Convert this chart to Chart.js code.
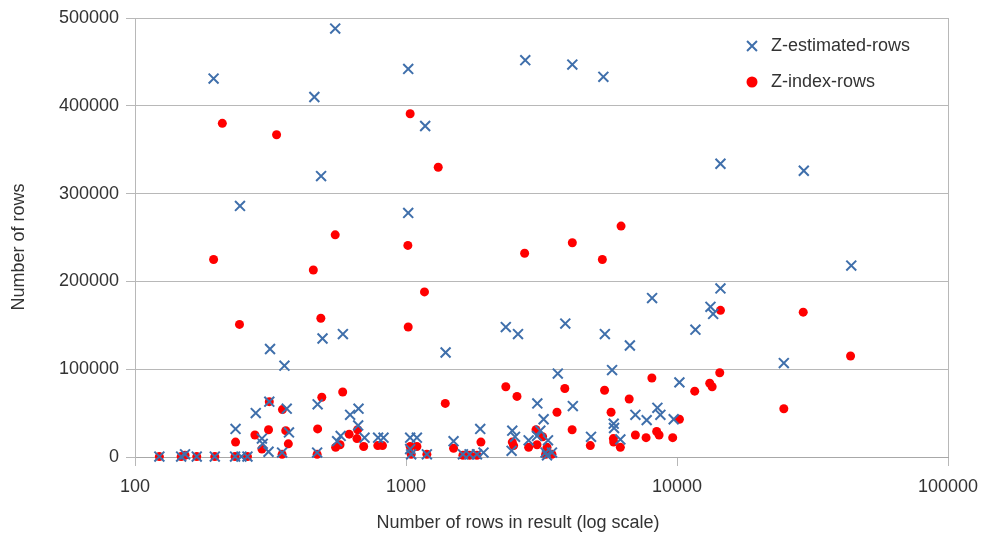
<!DOCTYPE html>
<html>
<head>
<meta charset="utf-8">
<script src="https://cdn.jsdelivr.net/npm/chart.js@4.4.1/dist/chart.umd.min.js"></script>
<style>
html, body { margin: 0; padding: 0; background: #fff; }
#wrap { width: 984px; height: 537px; }
</style>
</head>
<body>
<div id="wrap"><canvas id="grafico" width="984" height="537"></canvas></div>
<script>
// Z-estimated-rows (blue crosses)
const estX = [195,459,486,244,548,1019,2755,4109,5349,1177,1019,14466,29373,43960,14466,13288,13595,11694,8092,3871,
  5418,6701,2335,2590,1400,585,492,315,356,3632,5760,24785,10207,3052,4127,7022,7729,8465,8684,9723,
  3220,5839,5858,4817,6180,1879,2467,2525,3131,3044,2835,3342,3275,3457,3314,1498,1622,1716,1827,1932,
  2453,1036,1097,1036,1045,1194,789,826,703,668,666,622,557,574,472,470,363,370,349,313,
  311,294,296,279,235,123,148,153,169,197,234,247,260]
const estY = [431000,410000,320000,286000,488000,442000,452000,447000,433000,377000,278000,334000,326000,218000,192000,171000,163000,145000,181000,152000,
  140000,127000,148000,140000,119000,140000,135000,123000,104000,95000,99000,107000,85000,61000,58000,48000,42000,56000,48000,43000,
  43000,38000,33000,23000,20000,32000,30000,23000,30000,24000,19000,19000,5000,5000,2000,18000,3000,3000,3000,5000,
  7000,22000,22000,9000,3000,3000,22000,22000,22000,55000,36000,48000,18000,24000,60000,5000,55000,28000,5000,63000,
  6000,21000,15000,50000,32000,500,500,3000,500,500,500,500,500]

// Z-index-rows (red dots)
const idxX = [210,333,195,455,243,485,1036,1315,548,1016,1170,2740,4109,5303,6217,1019,29224,14466,43695,14379,
  13208,13480,11625,8078,5404,3855,2335,2568,584,489,1396,24785,10207,9641,6661,5711,3607,4102,4788,5824,
  5839,6180,7022,7690,8415,8588,3018,3193,3044,2835,3314,2467,2495,1890,1498,1036,1097,787,819,698,
  663,659,617,571,550,472,368,360,350,311,313,294,277,235,123,148,153,169,197,234,
  260,349,470,1045,1194,1622,1716,1827,3275,3457]
const idxY = [380000,367000,225000,213000,151000,158000,391000,330000,253000,241000,188000,232000,244000,225000,263000,148000,165000,167000,115000,96000,
  84000,80000,75000,90000,76000,78000,80000,69000,74000,68000,61000,55000,43000,22000,66000,51000,51000,31000,13000,21000,
  17000,11000,25000,22000,29000,25000,31000,23000,14000,11000,11000,17000,13000,17000,10000,12000,12000,13000,13000,12000,
  31000,21000,26000,14000,11000,32000,15000,30000,54000,31000,63000,9000,25000,17000,500,500,2000,500,500,500,
  500,3000,3000,3000,3000,2000,2000,2000,3000,3000]

const xTicks = [100, 1000, 10000, 100000]
const yTicks = [0, 100000, 200000, 300000, 400000, 500000]

const blue = '#3f6fab'
const red = '#ff0000'
const gridColor = '#b8b8b8'
const textColor = '#333333'
const fontFamily = '"Liberation Sans", Arial, sans-serif'

// legend + axis titles + right frame
const extras = {
  id: 'extras',
  afterDraw(chart) {
    const ctx = chart.ctx
    const a = chart.chartArea
    ctx.save()

    ctx.strokeStyle = gridColor
    ctx.lineWidth = 1
    ctx.beginPath()
    ctx.moveTo(Math.round(a.right) + 0.5, a.top)
    ctx.lineTo(Math.round(a.right) + 0.5, a.bottom)
    ctx.stroke()

    // legend
    const lx = a.right - 196
    const ly = a.top + 28
    const off = 7 * Math.SQRT1_2
    ctx.strokeStyle = blue
    ctx.lineWidth = 2
    ctx.beginPath()
    ctx.moveTo(lx - off, ly - off); ctx.lineTo(lx + off, ly + off)
    ctx.moveTo(lx - off, ly + off); ctx.lineTo(lx + off, ly - off)
    ctx.stroke()
    ctx.fillStyle = red
    ctx.beginPath()
    ctx.arc(lx, ly + 36, 5.5, 0, Math.PI * 2)
    ctx.fill()

    ctx.fillStyle = textColor
    ctx.font = '18px ' + fontFamily
    ctx.textAlign = 'left'
    ctx.textBaseline = 'middle'
    ctx.fillText(chart.data.datasets[0].label, lx + 19, ly)
    ctx.fillText(chart.data.datasets[1].label, lx + 19, ly + 36)

    // axis titles
    ctx.textAlign = 'center'
    ctx.fillText('Number of rows in result (log scale)', 518, 523)
    ctx.translate(19, 247)
    ctx.rotate(-Math.PI / 2)
    ctx.fillText('Number of rows', 0, 0)
    ctx.restore()
  }
}

const ctx = document.getElementById('grafico')

new Chart(ctx, {
  type: 'scatter',
  data: {
    datasets: [{
      label: 'Z-estimated-rows',
      data: estX.map((x, i) => ({ x: x, y: estY[i] })),
      pointStyle: 'crossRot',
      pointRadius: 7,
      pointHoverRadius: 7,
      borderColor: blue,
      backgroundColor: blue,
      borderWidth: 2
    }, {
      label: 'Z-index-rows',
      data: idxX.map((x, i) => ({ x: x, y: idxY[i] })),
      pointStyle: 'circle',
      pointRadius: 4.5,
      pointHoverRadius: 4.5,
      borderColor: red,
      backgroundColor: red,
      borderWidth: 0
    }]
  },
  options: {
    responsive: false,
    animation: false,
    devicePixelRatio: 1,
    clip: false,
    layout: { padding: { top: 18, right: 36, left: 0, bottom: 0 } },
    plugins: {
      legend: { display: false },
      tooltip: { enabled: false }
    },
    scales: {
      x: {
        type: 'logarithmic',
        min: 100,
        max: 100000,
        afterBuildTicks: s => { s.ticks = xTicks.map(v => ({ value: v })) },
        afterFit: s => { s.height = 80; s.paddingRight = 0; s.paddingLeft = 0 },
        ticks: {
          callback: v => String(v),
          autoSkip: false,
          maxRotation: 0,
          padding: 10,
          color: textColor,
          font: { family: fontFamily, size: 18 }
        },
        grid: { drawOnChartArea: false, drawTicks: true, tickLength: 9, color: gridColor },
        border: { color: '#a8a8a8', width: 1 }
      },
      y: {
        min: 0,
        max: 500000,
        afterBuildTicks: s => { s.ticks = yTicks.map(v => ({ value: v })) },
        afterFit: s => { s.width = 135; s.paddingTop = 0; s.paddingBottom = 0 },
        ticks: {
          callback: v => String(v),
          padding: 7,
          color: textColor,
          font: { family: fontFamily, size: 18 }
        },
        grid: { color: gridColor, tickLength: 9 },
        border: { color: gridColor, width: 1 }
      }
    }
  },
  plugins: [extras]
});
</script>
</body>
</html>
